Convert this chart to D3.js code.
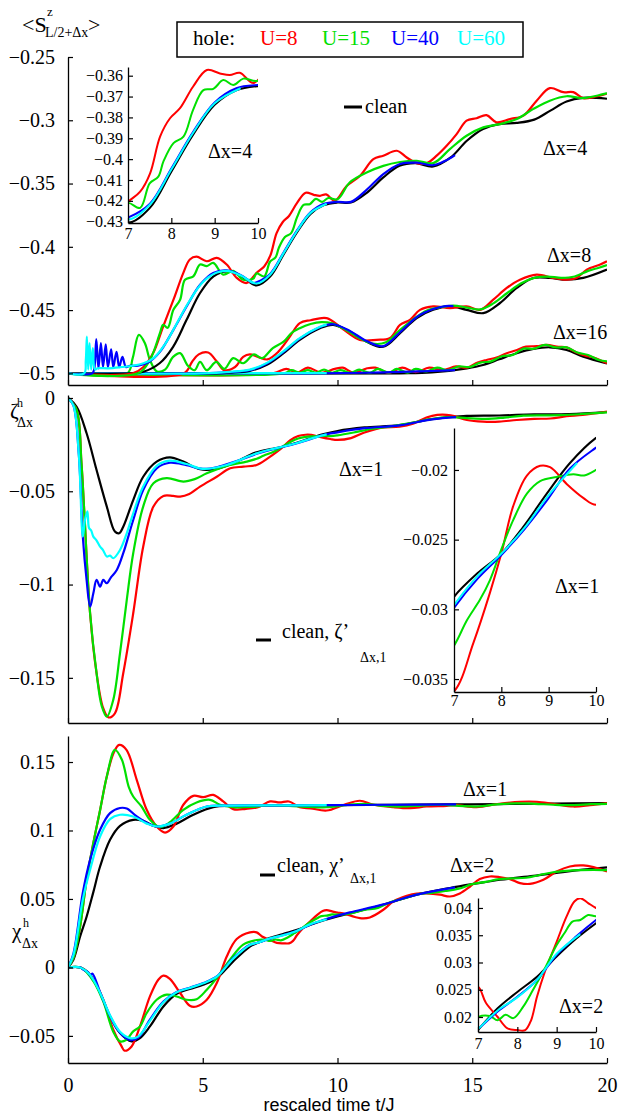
<!DOCTYPE html>
<html lang="en">
<head>
<meta charset="UTF-8">
<title>hole dynamics</title>
<script src="https://cdn.jsdelivr.net/npm/d3@7"></script>
<style>
  body { margin: 0; background: #fff; }
</style>
</head>
<body>
<svg id="canvas"></svg>
<script>
// ---- data (time t/J, value) ----
const xTicks = [0, 5, 10, 15, 20]
const insetXTicks = [7, 8, 9, 10]
const legendLabels = ['U=8', 'U=15', 'U=40', 'U=60']
const lineColors = ['#000000', '#ff0000', '#00e000', '#0000ff', '#00ffff'] // clean, U=8, U=15, U=40, U=60

// panel 1 : <S^z_{L/2+dx}>
const sTicks = [-0.5, -0.45, -0.4, -0.35, -0.3, -0.25]
const sInsetTicks = [-0.43, -0.42, -0.41, -0.4, -0.39, -0.38, -0.37, -0.36]

const s4Clean = [[0,-0.5],[2.3,-0.5],[2.8,-0.4987],[3.4,-0.492],[3.9,-0.479],[4.4,-0.4577],[4.9,-0.4365],[5.4,-0.4233],[5.9,-0.4194],[6.4,-0.4228],[7.0,-0.4305],[7.5,-0.4235],[8.0,-0.406],[8.5,-0.3884],[9.0,-0.374],[9.5,-0.367],[10.0,-0.365],[10.5,-0.365],[11.1,-0.3571],[11.7,-0.3452],[12.3,-0.336],[12.9,-0.3339],[13.55,-0.3365],[14.2,-0.3294],[14.8,-0.3162],[15.4,-0.3069],[16.0,-0.303],[16.65,-0.3021],[17.3,-0.2995],[17.9,-0.2924],[18.5,-0.2852],[19.1,-0.2823],[20,-0.283]]
const s4U8 = [[0,-0.5],[2.4,-0.5],[2.8,-0.495],[3.16,-0.484],[3.53,-0.463],[3.91,-0.442],[4.28,-0.4206],[4.52,-0.41],[4.77,-0.4078],[5.15,-0.4114],[5.52,-0.4087],[5.89,-0.414],[6.26,-0.4246],[6.63,-0.4286],[7.0,-0.4205],[7.28,-0.4156],[7.51,-0.4068],[7.74,-0.3892],[7.97,-0.3804],[8.2,-0.3756],[8.5,-0.3653],[8.82,-0.3573],[9.12,-0.3589],[9.35,-0.3597],[9.58,-0.3586],[9.9,-0.3635],[10.34,-0.352],[10.83,-0.344],[11.33,-0.3307],[11.7,-0.328],[12.2,-0.3241],[12.57,-0.3294],[12.94,-0.3339],[13.3,-0.334],[13.68,-0.328],[14.05,-0.3202],[14.42,-0.3109],[14.79,-0.3003],[15.16,-0.2984],[15.53,-0.296],[15.9,-0.3016],[16.4,-0.299],[16.9,-0.2963],[17.39,-0.2845],[17.88,-0.2746],[18.38,-0.2778],[18.75,-0.2778],[19.12,-0.2825],[19.5,-0.2817],[20,-0.279]]
const s4U15 = [[0,-0.5],[2.6,-0.5],[3.04,-0.4894],[3.41,-0.4683],[3.53,-0.4617],[3.7,-0.464],[3.91,-0.4498],[4.16,-0.4418],[4.34,-0.426],[4.65,-0.4233],[4.9,-0.414],[5.15,-0.4153],[5.39,-0.4127],[5.76,-0.422],[6.13,-0.419],[6.5,-0.426],[6.88,-0.425],[7.0,-0.421],[7.28,-0.4234],[7.5,-0.4116],[7.7,-0.4084],[7.82,-0.401],[8.05,-0.3923],[8.28,-0.3892],[8.5,-0.3765],[8.74,-0.3669],[8.97,-0.3663],[9.2,-0.3621],[9.43,-0.3645],[9.66,-0.3614],[10.0,-0.3624],[10.46,-0.349],[11.08,-0.3413],[11.7,-0.336],[12.32,-0.333],[12.94,-0.332],[13.55,-0.3339],[14.17,-0.3228],[14.79,-0.3122],[15.41,-0.3056],[16.03,-0.303],[16.65,-0.299],[17.27,-0.291],[17.88,-0.2845],[18.5,-0.281],[19.12,-0.2825],[20,-0.2786]]
const s4U40 = [[0,-0.5],[0.9,-0.5],[0.97,-0.497],[1.05,-0.473],[1.13,-0.496],[1.22,-0.476],[1.3,-0.495],[1.4,-0.477],[1.48,-0.495],[1.6,-0.481],[1.68,-0.495],[1.8,-0.483],[1.9,-0.495],[2.02,-0.487],[2.15,-0.495],[2.3,-0.494],[2.6,-0.494],[3.0,-0.491],[3.41,-0.483],[3.91,-0.4656],[4.4,-0.4471],[4.9,-0.43],[5.39,-0.4206],[5.89,-0.4186],[6.38,-0.422],[6.88,-0.4286],[7.0,-0.428],[7.5,-0.4215],[8.0,-0.4045],[8.5,-0.387],[9.0,-0.3728],[9.5,-0.366],[10.0,-0.3645],[10.5,-0.3645],[11.08,-0.355],[11.7,-0.3425],[12.32,-0.3345],[12.94,-0.3335],[13.55,-0.3355],[14.0,-0.332],[14.36,-0.3275]]
const s4U60 = [[0,-0.5],[0.6,-0.5],[0.66,-0.49],[0.7,-0.471],[0.75,-0.497],[0.8,-0.476],[0.86,-0.497],[0.92,-0.48],[1.0,-0.497],[1.1,-0.496],[1.5,-0.496],[2.0,-0.495],[2.4,-0.494],[2.8,-0.492],[3.2,-0.4875],[3.6,-0.477],[4.0,-0.462],[4.5,-0.443],[5.0,-0.428],[5.5,-0.4205],[5.9,-0.419],[6.4,-0.4225],[7.0,-0.429],[7.5,-0.422],[8.0,-0.405],[8.5,-0.3875],[9.0,-0.3732],[9.6,-0.366]]

const s8Clean = [[0,-0.5],[5.5,-0.5],[6.0,-0.4995],[6.75,-0.498],[7.4,-0.493],[8.0,-0.484],[8.6,-0.4735],[9.35,-0.4643],[9.84,-0.4617],[10.46,-0.467],[11.08,-0.475],[11.7,-0.479],[12.32,-0.4683],[12.94,-0.4563],[13.55,-0.4498],[14.17,-0.4471],[14.79,-0.4498],[15.41,-0.4524],[16.03,-0.4444],[16.65,-0.4325],[17.27,-0.4246],[17.88,-0.4246],[18.5,-0.426],[19.12,-0.4246],[20,-0.418]]
const s8U8 = [[0,-0.5],[4.3,-0.5],[4.6,-0.491],[4.85,-0.485],[5.2,-0.4835],[5.5,-0.49],[5.8,-0.4975],[6.2,-0.495],[6.5,-0.487],[6.75,-0.485],[7.05,-0.487],[7.4,-0.489],[7.8,-0.483],[8.2,-0.472],[8.6,-0.4603],[9.0,-0.458],[9.6,-0.4563],[10.2,-0.465],[10.83,-0.4735],[11.45,-0.4735],[11.95,-0.472],[12.32,-0.4617],[12.69,-0.4577],[13.06,-0.4498],[13.55,-0.447],[14.17,-0.4484],[14.79,-0.447],[15.3,-0.4498],[15.78,-0.4418],[16.28,-0.4325],[16.77,-0.426],[17.39,-0.422],[18.0,-0.4246],[18.5,-0.426],[18.87,-0.4246],[19.25,-0.418],[19.75,-0.414],[20,-0.4114]]
const s8U15 = [[0,-0.5],[2.2,-0.5],[2.4,-0.488],[2.63,-0.4696],[2.85,-0.476],[3.05,-0.49],[3.3,-0.4985],[3.6,-0.497],[3.9,-0.487],[4.16,-0.484],[4.45,-0.494],[4.7,-0.4975],[4.9,-0.491],[5.15,-0.4975],[5.5,-0.491],[5.8,-0.4965],[6.13,-0.488],[6.5,-0.492],[6.9,-0.485],[7.2,-0.488],[7.6,-0.48],[8.0,-0.475],[8.3,-0.468],[8.6,-0.4643],[9.0,-0.461],[9.4,-0.4595],[9.8,-0.4605],[10.3,-0.4655],[10.8,-0.472],[11.3,-0.4765],[11.8,-0.4755],[12.3,-0.466],[12.8,-0.4575],[13.3,-0.4505],[13.8,-0.4478],[14.3,-0.4465],[14.8,-0.448],[15.3,-0.4495],[15.8,-0.4445],[16.3,-0.4365],[16.8,-0.429],[17.3,-0.4245],[17.8,-0.4235],[18.3,-0.4245],[18.8,-0.4235],[19.3,-0.419],[19.7,-0.4165],[20,-0.4145]]
const s8U40 = [[0,-0.5],[5.0,-0.5],[6.0,-0.499],[6.75,-0.4975],[7.4,-0.492],[8.0,-0.483],[8.6,-0.4725],[9.35,-0.4635],[9.84,-0.4612],[10.46,-0.4665],[11.08,-0.4745],[11.7,-0.4785],[12.32,-0.4675],[12.94,-0.4555],[13.55,-0.4492],[14.0,-0.4468],[14.3,-0.4468]]
const s8U60 = [[0,-0.5],[5.0,-0.5],[6.0,-0.4988],[6.75,-0.497],[7.4,-0.4915],[8.0,-0.4825],[8.6,-0.4722],[9.35,-0.4632],[9.6,-0.4615]]

const s16Clean = [[0,-0.5],[12.3,-0.5],[13.5,-0.4993],[14.8,-0.496],[15.4,-0.4934],[16.0,-0.4889],[16.65,-0.4841],[17.27,-0.4807],[17.88,-0.4794],[18.5,-0.4815],[19.12,-0.4868],[20,-0.4921]]
const s16U8 = [[0,-0.5],[7.6,-0.5],[8.1,-0.4965],[8.5,-0.4995],[8.9,-0.4955],[9.4,-0.4995],[9.9,-0.4965],[10.2,-0.4955],[10.6,-0.4995],[11.1,-0.496],[11.4,-0.4955],[11.9,-0.4995],[12.4,-0.4955],[12.9,-0.499],[13.4,-0.4955],[13.9,-0.4975],[14.4,-0.4945],[14.8,-0.4955],[15.2,-0.4915],[15.53,-0.4894],[15.9,-0.4875],[16.28,-0.4841],[16.6,-0.482],[17.0,-0.4789],[17.4,-0.4785],[17.76,-0.4775],[18.2,-0.479],[18.5,-0.4795],[18.87,-0.4835],[19.2,-0.486],[19.5,-0.4875],[20,-0.4921]]
const s16U15 = [[0,-0.5],[8.0,-0.5],[8.3,-0.4975],[8.6,-0.4995],[8.9,-0.4975],[9.2,-0.4995],[9.5,-0.497],[9.8,-0.4995],[10.1,-0.4975],[10.5,-0.4995],[10.8,-0.497],[11.2,-0.4995],[11.5,-0.4965],[11.9,-0.4995],[12.2,-0.4965],[12.6,-0.4995],[12.9,-0.4965],[13.3,-0.4985],[13.7,-0.4955],[14.1,-0.4975],[14.5,-0.4945],[14.9,-0.495],[15.3,-0.4915],[15.7,-0.4905],[16.1,-0.4865],[16.5,-0.4855],[16.9,-0.4805],[17.3,-0.4805],[17.7,-0.4775],[18.1,-0.4795],[18.5,-0.4795],[18.9,-0.4835],[19.3,-0.4855],[19.7,-0.4895],[20,-0.4905]]
const s16U40 = [[0,-0.5],[9.0,-0.5],[11.0,-0.4995],[13.0,-0.4985],[14.36,-0.4975]]
const s16U60 = [[0,-0.5],[9.6,-0.4998]]

// panel 2 : zeta^h_{dx}, dx = 1
const zTicks = [-0.15, -0.1, -0.05, 0]
const zInsetTicks = [-0.035, -0.03, -0.025, -0.02]
const zClean = [[0,0],[0.32,-0.0047],[0.69,-0.0189],[1.06,-0.0386],[1.44,-0.0582],[1.74,-0.0716],[1.9,-0.0725],[2.05,-0.069],[2.42,-0.0547],[2.79,-0.0422],[3.29,-0.0341],[3.78,-0.0318],[4.28,-0.0341],[4.9,-0.0382],[5.5,-0.038],[6.13,-0.035],[6.75,-0.0305],[7.0,-0.0291],[7.5,-0.0274],[8.0,-0.026],[8.46,-0.0241],[8.96,-0.0217],[9.45,-0.0195],[10.0,-0.0177],[11.0,-0.0158],[12.3,-0.0145],[13.5,-0.0113],[14.8,-0.0096],[16.0,-0.0094],[17.3,-0.0088],[18.6,-0.0086],[20,-0.0075]]
const zU8 = [[0,0],[0.32,-0.0064],[0.5,-0.035],[0.6,-0.06],[0.82,-0.1154],[1.06,-0.1475],[1.3,-0.166],[1.5,-0.1712],[1.74,-0.169],[2.05,-0.1475],[2.42,-0.1154],[2.79,-0.0797],[3.17,-0.0582],[3.54,-0.0525],[3.9,-0.0525],[4.16,-0.0529],[4.5,-0.0515],[4.9,-0.0475],[5.52,-0.0422],[6.02,-0.0377],[6.51,-0.0368],[7.0,-0.0359],[7.41,-0.0324],[7.76,-0.0288],[8.0,-0.026],[8.25,-0.0226],[8.54,-0.0204],[8.82,-0.0197],[9.03,-0.0198],[9.38,-0.021],[9.73,-0.022],[10.0,-0.0225],[10.5,-0.0215],[11.0,-0.0185],[11.6,-0.016],[12.3,-0.0154],[12.8,-0.0138],[13.3,-0.0105],[13.7,-0.0091],[14.2,-0.0093],[14.8,-0.0118],[15.4,-0.0127],[16.0,-0.0127],[16.65,-0.0118],[17.3,-0.0112],[17.9,-0.011],[18.5,-0.0098],[19.1,-0.0091],[20,-0.0073]]
const zU15 = [[0,0],[0.32,-0.0064],[0.5,-0.035],[0.6,-0.06],[0.82,-0.1154],[1.06,-0.1475],[1.25,-0.165],[1.44,-0.1708],[1.68,-0.1618],[1.93,-0.1368],[2.18,-0.1083],[2.42,-0.0832],[2.79,-0.0582],[3.17,-0.0457],[3.66,-0.043],[4.28,-0.0448],[4.7,-0.0435],[5.15,-0.0404],[5.89,-0.0364],[6.63,-0.0341],[7.0,-0.0326],[7.27,-0.0308],[7.55,-0.0293],[7.76,-0.0279],[8.0,-0.0257],[8.25,-0.0236],[8.54,-0.0217],[8.82,-0.0208],[9.17,-0.0205],[9.52,-0.0203],[9.75,-0.0204],[10.0,-0.02],[10.6,-0.0185],[11.3,-0.0165],[12.0,-0.0152],[12.7,-0.0135],[13.4,-0.0115],[14.1,-0.0102],[14.8,-0.0108],[15.5,-0.0112],[16.2,-0.0105],[16.9,-0.0095],[17.6,-0.0093],[18.3,-0.0092],[19.0,-0.0087],[20,-0.0077]]
const zU40 = [[0,0],[0.2,-0.004],[0.4,-0.03],[0.55,-0.0743],[0.69,-0.0975],[0.82,-0.1118],[0.94,-0.1047],[1.06,-0.0975],[1.19,-0.1011],[1.31,-0.0975],[1.44,-0.0993],[1.6,-0.096],[1.81,-0.0922],[2.05,-0.0832],[2.42,-0.0654],[2.79,-0.0493],[3.29,-0.0377],[3.78,-0.0347],[4.4,-0.036],[5.0,-0.038],[5.6,-0.0368],[6.38,-0.0332],[7.0,-0.0299],[7.5,-0.0278],[8.0,-0.0261],[8.5,-0.0242],[8.96,-0.0222],[9.45,-0.0199],[10.0,-0.0184],[11.0,-0.0162],[12.3,-0.0147],[13.5,-0.0115],[14.4,-0.0103]]
const zU60 = [[0,0],[0.2,-0.004],[0.4,-0.03],[0.55,-0.0743],[0.63,-0.0654],[0.72,-0.0607],[0.78,-0.0697],[0.86,-0.071],[0.94,-0.0743],[1.05,-0.0762],[1.19,-0.0797],[1.3,-0.0815],[1.44,-0.085],[1.56,-0.0845],[1.68,-0.0859],[1.93,-0.0815],[2.18,-0.0725],[2.42,-0.0618],[2.79,-0.0475],[3.29,-0.0364],[3.78,-0.0336],[4.4,-0.0354],[5.0,-0.038],[5.89,-0.0359],[6.75,-0.031],[7.0,-0.0297],[7.5,-0.0276],[8.0,-0.026],[8.5,-0.0241],[9.0,-0.0218],[9.6,-0.0195]]

// panel 3 : chi^h_{dx}, dx = 1 and dx = 2
const cTicks = [-0.05, 0, 0.05, 0.1, 0.15]
const cInsetTicks = [0.02, 0.025, 0.03, 0.035, 0.04]
const c1Clean = [[0,0],[0.2,0.0056],[0.45,0.0226],[0.69,0.037],[0.94,0.055],[1.19,0.0737],[1.56,0.0932],[1.93,0.1034],[2.42,0.1078],[2.79,0.107],[3.17,0.1034],[3.54,0.1017],[4.03,0.105],[4.65,0.1115],[5.39,0.1171],[6.13,0.118],[8,0.1182],[10,0.1185],[12,0.1188],[14,0.119],[16,0.1193],[18,0.1196],[20,0.12]]
const c1U8 = [[0,0],[0.2,0.007],[0.45,0.03],[0.69,0.064],[0.94,0.0908],[1.19,0.1148],[1.44,0.1394],[1.7,0.157],[1.9,0.1625],[2.17,0.1589],[2.55,0.137],[2.92,0.1151],[3.29,0.1029],[3.6,0.0985],[3.91,0.1029],[4.28,0.1188],[4.65,0.1253],[5.02,0.1243],[5.39,0.126],[5.76,0.1212],[6.13,0.1156],[6.6,0.1158],[7.05,0.117],[7.5,0.1212],[7.85,0.1205],[8.2,0.1212],[8.6,0.117],[9.0,0.1162],[9.6,0.1146],[10.25,0.1188],[10.83,0.1217],[11.33,0.1188],[12.07,0.117],[12.7,0.1163],[13.3,0.1175],[14.05,0.118],[14.4,0.1185],[15.16,0.117],[16.0,0.1195],[16.77,0.121],[17.4,0.121],[18.0,0.1195],[18.75,0.1175],[19.37,0.1185],[20,0.12]]
const c1U15 = [[0,0],[0.2,0.007],[0.45,0.03],[0.69,0.064],[0.94,0.0908],[1.19,0.1148],[1.44,0.1394],[1.74,0.1589],[2.0,0.1516],[2.25,0.1321],[2.42,0.1248],[2.73,0.1175],[3.04,0.1078],[3.41,0.1025],[3.78,0.106],[4.28,0.1151],[4.77,0.1205],[5.27,0.1224],[5.64,0.1188],[6.13,0.117],[6.8,0.1172],[7.5,0.1185],[8.2,0.118],[9.0,0.1172],[9.6,0.117],[10.3,0.1185],[11.0,0.1195],[11.7,0.118],[12.4,0.1175],[13.1,0.1182],[13.8,0.1188],[14.5,0.118],[15.2,0.1175],[15.9,0.119],[16.6,0.1198],[17.3,0.1195],[18.0,0.1188],[18.7,0.1185],[19.4,0.1192],[20,0.1195]]
const c1U40 = [[0,0],[0.2,0.01],[0.55,0.0546],[0.82,0.0786],[1.19,0.1005],[1.56,0.1127],[1.93,0.1164],[2.18,0.116],[2.55,0.1102],[2.92,0.1056],[3.29,0.1029],[3.78,0.105],[4.4,0.1115],[5.15,0.1175],[6.0,0.1182],[8,0.1183],[10,0.1185],[12,0.1188],[14.4,0.119]]
const c1U60 = [[0,0],[0.2,0.009],[0.55,0.0497],[0.82,0.0713],[1.19,0.0956],[1.56,0.1083],[1.93,0.1115],[2.42,0.1102],[2.92,0.105],[3.29,0.1029],[3.78,0.105],[4.4,0.1115],[5.15,0.1175],[6.0,0.1182],[8,0.1183],[9.6,0.1185]]

const c2Clean = [[0,0],[0.45,0],[0.82,-0.0053],[1.19,-0.0187],[1.56,-0.0358],[1.93,-0.0479],[2.36,-0.054],[2.67,-0.0516],[3.04,-0.0431],[3.54,-0.0285],[4.03,-0.0192],[4.52,-0.0158],[5.02,-0.0126],[5.52,-0.0078],[6.13,0.0044],[6.75,0.0153],[7.0,0.0176],[7.5,0.0216],[8.0,0.0246],[8.5,0.0274],[9.0,0.0311],[9.5,0.0344],[10.0,0.0372],[10.46,0.0395],[11.7,0.0458],[12.94,0.0531],[14.17,0.058],[15.16,0.0613],[16.03,0.064],[17.27,0.0669],[18.5,0.07],[20,0.073]]
const c2U8 = [[0,0],[0.5,-0.0005],[0.94,-0.009],[1.31,-0.0236],[1.68,-0.0455],[1.99,-0.0577],[2.1,-0.0608],[2.36,-0.0577],[2.67,-0.0431],[3.04,-0.0212],[3.35,-0.009],[3.54,-0.006],[3.78,-0.0083],[4.16,-0.0187],[4.52,-0.028],[4.77,-0.0285],[5.15,-0.0236],[5.52,-0.0114],[5.89,0.008],[6.26,0.0207],[6.75,0.0256],[7.0,0.0256],[7.2,0.0226],[7.5,0.02],[7.75,0.0179],[8.0,0.0176],[8.2,0.0176],[8.35,0.0194],[8.5,0.0237],[8.7,0.0283],[9.0,0.0338],[9.25,0.0384],[9.45,0.0412],[9.6,0.0418],[9.8,0.0409],[10.0,0.04],[10.2,0.0395],[10.83,0.036],[11.2,0.0365],[11.7,0.0421],[12.07,0.0482],[12.57,0.0523],[12.94,0.054],[13.3,0.054],[13.8,0.0531],[14.17,0.0518],[14.54,0.054],[14.92,0.0591],[15.28,0.0645],[15.65,0.0664],[16.0,0.066],[16.4,0.0645],[16.77,0.0616],[17.14,0.061],[17.64,0.064],[18.13,0.07],[18.62,0.0737],[19.12,0.0745],[19.5,0.0732],[20,0.07]]
const c2U15 = [[0,0],[0.5,-0.0005],[0.94,-0.01],[1.31,-0.025],[1.68,-0.047],[1.93,-0.054],[2.17,-0.0528],[2.42,-0.0467],[2.67,-0.0431],[2.92,-0.0333],[3.29,-0.0236],[3.66,-0.0199],[4.03,-0.0212],[4.4,-0.0236],[4.77,-0.0232],[5.15,-0.0163],[5.52,-0.0078],[6.01,0.0056],[6.5,0.0166],[7.0,0.02],[7.3,0.0202],[7.5,0.0194],[7.7,0.0204],[7.9,0.0198],[8.15,0.0219],[8.4,0.025],[8.7,0.0289],[9.0,0.0332],[9.2,0.0354],[9.4,0.0375],[9.6,0.0378],[9.8,0.0387],[10.0,0.0385],[10.5,0.0395],[11.0,0.042],[11.5,0.0435],[12.0,0.048],[12.5,0.0505],[13.0,0.0535],[13.5,0.0545],[14.0,0.0558],[14.5,0.0575],[15.0,0.0608],[15.5,0.0625],[16.0,0.0645],[16.5,0.065],[17.0,0.0655],[17.5,0.0675],[18.0,0.0695],[18.5,0.0705],[19.0,0.071],[19.5,0.0712],[20,0.071]]
const c2U40 = [[0,0],[0.45,0],[0.6,-0.002],[0.75,-0.0035],[0.82,-0.006],[0.9,-0.0045],[1.19,-0.018],[1.56,-0.0355],[1.93,-0.0478],[2.3,-0.053],[2.6,-0.0515],[3.04,-0.0382],[3.54,-0.025],[4.03,-0.018],[4.52,-0.0148],[5.02,-0.0114],[5.52,-0.0066],[6.13,0.0068],[6.75,0.0166],[7.0,0.0178],[7.5,0.021],[8.0,0.0237],[8.5,0.0268],[9.0,0.0314],[9.5,0.0348],[10.0,0.0378],[10.46,0.0402],[11.7,0.046],[12.94,0.0532],[14.36,0.0585]]
const c2U60 = [[0,0],[0.45,0],[0.82,-0.0055],[1.19,-0.0185],[1.56,-0.035],[1.93,-0.047],[2.3,-0.0516],[2.6,-0.0505],[3.04,-0.039],[3.54,-0.0255],[4.03,-0.0182],[4.52,-0.015],[5.02,-0.0116],[5.52,-0.0068],[6.13,0.0064],[6.75,0.0164],[7.0,0.0178],[7.5,0.0212],[8.0,0.0236],[8.5,0.0268],[9.0,0.0316],[9.6,0.0352]]

// ---- drawing ----
let width = 618
let height = 1120
let serif = '"Liberation Serif", "Times New Roman", Times, serif'
let sans = '"Liberation Sans", Arial, Helvetica, sans-serif'
let canvas = d3.select('#canvas').attr('width', width).attr('height', height)
let fmt = d3.format('~g')
let clipCount = 0

// one set of axes with its curves
let drawPanel = (p) => {
    let x = d3.scaleLinear().domain(p.xDomain).range(p.xRange)
    let y = d3.scaleLinear().domain(p.yDomain).range(p.yRange)
    let clipId = 'clip' + (clipCount++)
    canvas.append('clipPath').attr('id', clipId).append('rect')
        .attr('x', p.xRange[0]).attr('y', p.yRange[1])
        .attr('width', p.xRange[1] - p.xRange[0]).attr('height', p.yRange[0] - p.yRange[1])

    let line = d3.line()
        .x(d => x(d[0]))
        .y(d => y(d[1]))
        .curve(d3.curveCatmullRom.alpha(0.5))

    let g = canvas.append('g')
    p.groups.forEach(group => {
        group.forEach((data, i) => {
            g.append('path')
                .attr('d', line(data))
                .attr('fill', 'none')
                .attr('stroke', lineColors[i])
                .attr('stroke-width', p.lw)
                .attr('stroke-linejoin', 'round')
                .attr('clip-path', 'url(#' + clipId + ')')
        })
    })

    let yAxis = d3.axisLeft(y).tickValues(p.yTicks).tickFormat(fmt)
        .tickSizeInner(-5).tickSizeOuter(0).tickPadding(p.yPad)
    let gy = canvas.append('g').attr('transform', 'translate(' + p.xRange[0] + ',0)').call(yAxis)

    let xAxis = d3.axisBottom(x).tickValues(p.xTicks)
        .tickFormat(p.xLabels ? fmt : () => '')
        .tickSizeInner(-5).tickSizeOuter(0).tickPadding(p.xPad)
    let gx = canvas.append('g').attr('transform', 'translate(0,' + p.yRange[0] + ')').call(xAxis)

    ;[gx, gy].forEach(a => {
        a.selectAll('text').style('font-family', serif).style('font-size', p.fs + 'px').style('fill', '#000')
        a.selectAll('.domain').attr('stroke', '#000').attr('stroke-width', 1.3)
        a.selectAll('.tick line').attr('stroke', '#000').attr('stroke-width', 1.2)
    })
}

// main panels
drawPanel({xDomain: [0, 20], xRange: [68, 607], yDomain: [-0.5092, -0.25], yRange: [385, 57],
    yTicks: sTicks, xTicks: xTicks, xLabels: false, yPad: 13, xPad: 15, fs: 20, lw: 2.2,
    groups: [[s16Clean, s16U8, s16U15, s16U40, s16U60], [s8Clean, s8U8, s8U15, s8U40, s8U60], [s4Clean, s4U8, s4U15, s4U40, s4U60]]})
drawPanel({xDomain: [0, 20], xRange: [68, 607], yDomain: [-0.1742, 0.0016], yRange: [723, 395],
    yTicks: zTicks, xTicks: xTicks, xLabels: false, yPad: 13, xPad: 15, fs: 20, lw: 2.2,
    groups: [[zClean, zU8, zU15, zU40, zU60]]})
drawPanel({xDomain: [0, 20], xRange: [68, 607], yDomain: [-0.0698, 0.169], yRange: [1063, 736],
    yTicks: cTicks, xTicks: xTicks, xLabels: true, yPad: 13, xPad: 15, fs: 20, lw: 2.2,
    groups: [[c2Clean, c2U8, c2U15, c2U40, c2U60], [c1Clean, c1U8, c1U15, c1U40, c1U60]]})

// insets (t = 7..10)
drawPanel({xDomain: [7, 10], xRange: [128, 258], yDomain: [-0.43062, -0.35583], yRange: [223, 67],
    yTicks: sInsetTicks, xTicks: insetXTicks, xLabels: true, yPad: 5, xPad: 5, fs: 16, lw: 2,
    groups: [[s4Clean, s4U8, s4U15, s4U40, s4U60]]})
drawPanel({xDomain: [7, 10], xRange: [454, 596], yDomain: [-0.03593, -0.01699], yRange: [692, 428],
    yTicks: zInsetTicks, xTicks: insetXTicks, xLabels: true, yPad: 6, xPad: 3, fs: 16, lw: 2,
    groups: [[zClean, zU8, zU15, zU40, zU60]]})
drawPanel({xDomain: [7, 10], xRange: [478, 596], yDomain: [0.01725, 0.04183], yRange: [1032, 898],
    yTicks: cInsetTicks, xTicks: insetXTicks, xLabels: true, yPad: 6, xPad: 6, fs: 16, lw: 2,
    groups: [[c2Clean, c2U8, c2U15, c2U40, c2U60]]})

// free text helper
let label = (x, y, size, txt, family) => {
    return canvas.append('text').attr('x', x).attr('y', y)
        .style('font-size', size + 'px')
        .style('font-family', family || serif)
        .style('fill', '#000')
        .text(txt)
}

// legend box
canvas.append('rect').attr('x', 177).attr('y', 22).attr('width', 346).attr('height', 35)
    .attr('fill', '#fff').attr('stroke', '#000').attr('stroke-width', 1.5)
label(193, 45, 21, 'hole:')
let legendX = [260, 322, 391, 457]
legendLabels.forEach((l, i) => {
    label(legendX[i], 45, 21, l).style('fill', lineColors[i + 1])
})

// y labels
label(22, 32, 22, '<S')
label(47, 16, 13, 'z')
label(45, 37, 14, 'L/2+Δx')
label(88, 32, 22, '>')
label(10, 418, 21, 'ζ')
label(17, 407, 12, 'h')
label(17, 427, 14, 'Δx')
label(12, 938, 21, 'χ')
label(23, 927, 12, 'h')
label(22, 948, 14, 'Δx')

// annotations, panel 1
canvas.append('line').attr('x1', 344).attr('x2', 362).attr('y1', 107).attr('y2', 107).attr('stroke', '#000').attr('stroke-width', 3)
label(365, 113, 20, 'clean')
label(543, 155, 20, 'Δx=4')
label(547, 262, 20, 'Δx=8')
label(553, 339, 20, 'Δx=16')
label(208, 158, 20, 'Δx=4')

// annotations, panel 2
label(339, 476, 20, 'Δx=1')
label(555, 593, 20, 'Δx=1')
canvas.append('line').attr('x1', 256).attr('x2', 271).attr('y1', 640).attr('y2', 640).attr('stroke', '#000').attr('stroke-width', 3)
label(282, 638, 20, 'clean, ζ’')
label(360, 662, 14, 'Δx,1')

// annotations, panel 3
label(463, 796, 20, 'Δx=1')
label(450, 872, 20, 'Δx=2')
label(559, 1013, 20, 'Δx=2')
canvas.append('line').attr('x1', 260).attr('x2', 275).attr('y1', 875).attr('y2', 875).attr('stroke', '#000').attr('stroke-width', 3)
label(277, 872, 20, 'clean, χ’')
label(350, 883, 14, 'Δx,1')

// x axis title
label(329, 1111, 18, 'rescaled time t/J', sans).attr('text-anchor', 'middle')
</script>
</body>
</html>
